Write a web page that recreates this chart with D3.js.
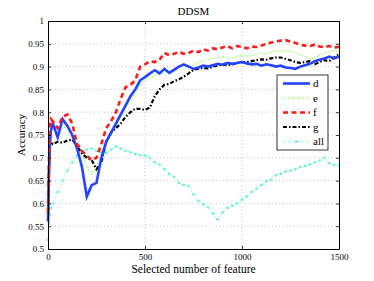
<!DOCTYPE html>
<html>
<head>
<meta charset="utf-8">
<script src="https://cdn.jsdelivr.net/npm/d3@7"></script>
<style>
  body { margin: 0; background: #fff; }
  svg text { font-family: "Liberation Serif", "Times New Roman", serif; fill: #000; }
</style>
</head>
<body>
<div id="chart"></div>
<script>
// number of selected features (x)
var features = [0, 5, 10, 15, 25, 50, 75, 100, 125, 150, 175, 200, 225, 250, 275, 300, 325, 350, 375, 400,
  425, 450, 475, 500, 525, 550, 575, 600, 625, 650, 675, 700, 725, 750, 775, 800, 825, 850, 875, 900,
  925, 950, 975, 1000, 1025, 1050, 1075, 1100, 1125, 1150, 1175, 1200, 1225, 1250, 1275, 1300, 1325, 1350, 1375, 1400,
  1425, 1450, 1475, 1500];

var accD = [0.56, 0.66, 0.73, 0.76, 0.775, 0.745, 0.785, 0.77, 0.75, 0.72, 0.68, 0.615, 0.64, 0.645, 0.70, 0.735, 0.755, 0.775, 0.795, 0.815,
  0.835, 0.85, 0.87, 0.877, 0.885, 0.892, 0.885, 0.895, 0.886, 0.893, 0.9, 0.905, 0.9, 0.895, 0.898, 0.902, 0.9, 0.903, 0.906, 0.904,
  0.908, 0.906, 0.908, 0.91, 0.907, 0.905, 0.906, 0.902, 0.905, 0.903, 0.9, 0.902, 0.898, 0.897, 0.895, 0.9, 0.903, 0.906, 0.912, 0.915,
  0.918, 0.922, 0.918, 0.922];

var accE = [0.58, 0.68, 0.74, 0.76, 0.765, 0.77, 0.765, 0.77, 0.755, 0.74, 0.715, 0.68, 0.665, 0.675, 0.71, 0.74, 0.75, 0.77, 0.79, 0.81,
  0.825, 0.84, 0.86, 0.87, 0.875, 0.88, 0.885, 0.888, 0.89, 0.895, 0.9, 0.903, 0.9, 0.905, 0.91, 0.912, 0.915, 0.918, 0.92, 0.922,
  0.92, 0.918, 0.922, 0.925, 0.923, 0.925, 0.927, 0.93, 0.928, 0.932, 0.935, 0.933, 0.936, 0.934, 0.93, 0.925, 0.922, 0.918, 0.92, 0.925,
  0.93, 0.932, 0.935, 0.934];

var accF = [0.58, 0.70, 0.77, 0.785, 0.78, 0.765, 0.79, 0.795, 0.775, 0.73, 0.715, 0.705, 0.695, 0.70, 0.73, 0.765, 0.78, 0.80, 0.83, 0.855,
  0.86, 0.87, 0.90, 0.905, 0.912, 0.91, 0.915, 0.93, 0.925, 0.928, 0.932, 0.928, 0.93, 0.935, 0.932, 0.938, 0.935, 0.94, 0.938, 0.942,
  0.945, 0.94, 0.945, 0.943, 0.94, 0.944, 0.943, 0.946, 0.95, 0.953, 0.955, 0.957, 0.958, 0.955, 0.952, 0.948, 0.946, 0.945, 0.948, 0.944,
  0.943, 0.945, 0.942, 0.943];

var accG = [0.58, 0.68, 0.73, 0.735, 0.73, 0.735, 0.733, 0.738, 0.74, 0.725, 0.71, 0.70, 0.695, 0.675, 0.69, 0.735, 0.755, 0.765, 0.775, 0.79,
  0.80, 0.808, 0.807, 0.805, 0.81, 0.835, 0.85, 0.86, 0.862, 0.868, 0.872, 0.878, 0.885, 0.893, 0.895, 0.897, 0.896, 0.9, 0.902, 0.905,
  0.903, 0.905, 0.908, 0.91, 0.91, 0.912, 0.914, 0.916, 0.915, 0.918, 0.92, 0.92, 0.917, 0.914, 0.91, 0.908, 0.91, 0.912, 0.905, 0.91,
  0.914, 0.912, 0.92, 0.927];

var accAll = [0.52, 0.555, 0.575, 0.59, 0.60, 0.625, 0.65, 0.672, 0.69, 0.705, 0.712, 0.718, 0.72, 0.715, 0.712, 0.71, 0.718, 0.725, 0.72, 0.715,
  0.712, 0.708, 0.706, 0.705, 0.70, 0.69, 0.685, 0.675, 0.665, 0.658, 0.645, 0.64, 0.638, 0.62, 0.605, 0.598, 0.592, 0.578, 0.565, 0.58,
  0.59, 0.595, 0.60, 0.608, 0.615, 0.625, 0.632, 0.64, 0.648, 0.652, 0.662, 0.665, 0.67, 0.672, 0.675, 0.68, 0.682, 0.685, 0.69, 0.694,
  0.70, 0.688, 0.684, 0.683];

var seriesNames = ["d", "e", "f", "g", "all"];
var yTicks = [0.5, 0.55, 0.6, 0.65, 0.7, 0.75, 0.8, 0.85, 0.9, 0.95, 1];
var xTicks = [0, 500, 1000, 1500];

var serif = "'Liberation Serif', 'Times New Roman', serif";
var width = 374, height = 281;
var margin = { top: 21, right: 35, bottom: 32, left: 48 };
var plotW = width - margin.left - margin.right;
var plotH = height - margin.top - margin.bottom;

var svg = d3.select("#chart").append("svg")
    .attr("width", width).attr("height", height)
    .attr("font-family", serif);

var x = d3.scaleLinear().domain([0, 1500]).range([0, plotW]);
var y = d3.scaleLinear().domain([0.5, 1]).range([plotH, 0]);

var g = svg.append("g").attr("transform", "translate(" + margin.left + "," + margin.top + ")");

// dotted grid
g.append("g").selectAll("line").data(yTicks.slice(1, -1)).enter().append("line")
    .attr("x1", 0).attr("x2", plotW)
    .attr("y1", function(d) { return y(d); }).attr("y2", function(d) { return y(d); })
    .attr("stroke", "#b4b4b4").attr("stroke-width", 0.8).attr("stroke-dasharray", "1,2.5");
g.append("g").selectAll("line").data(xTicks.slice(1, -1)).enter().append("line")
    .attr("y1", 0).attr("y2", plotH)
    .attr("x1", function(d) { return x(d); }).attr("x2", function(d) { return x(d); })
    .attr("stroke", "#b4b4b4").attr("stroke-width", 0.8).attr("stroke-dasharray", "1,2.5");

// series
var styles = {
    d:   { data: accD,   color: "#2443ff", width: 2.6, dash: null },
    e:   { data: accE,   color: "#94ff5c", width: 1.5, dash: "1,1.5" },
    f:   { data: accF,   color: "#ff1a1a", width: 2.6, dash: "5,3.5" },
    g:   { data: accG,   color: "#000000", width: 2.2, dash: "4,2,1.5,2" },
    all: { data: accAll, color: "#70f4d4", width: 1.0, dash: "1,1.5" }
};

var line = d3.line()
    .x(function(d) { return x(d[0]); })
    .y(function(d) { return y(d[1]); });

var drawOrder = ["all", "e", "g", "d", "f"];
drawOrder.forEach(function(name) {
    var s = styles[name];
    var pts = features.map(function(f, i) { return [f, s.data[i]]; });
    g.append("path").datum(pts)
        .attr("fill", "none")
        .attr("stroke", s.color)
        .attr("stroke-width", s.width)
        .attr("stroke-dasharray", s.dash)
        .attr("d", line);
    if (name == "all") {
        g.append("g").selectAll("circle").data(pts).enter().append("circle")
            .attr("cx", function(d) { return x(d[0]); })
            .attr("cy", function(d) { return y(d[1]); })
            .attr("r", 1.4)
            .attr("fill", s.color);
    }
});

// axes, MATLAB box style with inward ticks
var fmtY = function(d) { return String(+d.toFixed(2)); };
var axL = g.append("g").call(d3.axisLeft(y).tickValues(yTicks).tickSizeInner(-3).tickSizeOuter(0).tickPadding(4).tickFormat(fmtY));
var axR = g.append("g").attr("transform", "translate(" + plotW + ",0)")
    .call(d3.axisRight(y).tickValues(yTicks).tickSizeInner(-3).tickSizeOuter(0).tickFormat(""));
var axB = g.append("g").attr("transform", "translate(0," + plotH + ")")
    .call(d3.axisBottom(x).tickValues(xTicks).tickSizeInner(-3).tickSizeOuter(0).tickPadding(4.5).tickFormat(d3.format("d")));
var axT = g.append("g")
    .call(d3.axisTop(x).tickValues(xTicks).tickSizeInner(-3).tickSizeOuter(0).tickFormat(""));

[axL, axR, axB, axT].forEach(function(a) {
    a.attr("font-family", serif).attr("font-size", 9);
    a.selectAll(".domain").attr("stroke", "#000").attr("stroke-width", 1);
    a.selectAll(".tick line").attr("stroke", "#000").attr("stroke-width", 0.8);
});

// titles
svg.append("text").attr("x", margin.left + plotW / 2).attr("y", 15)
    .attr("text-anchor", "middle").attr("font-size", 11).text("DDSM");
svg.append("text").attr("x", margin.left + plotW / 2).attr("y", 273)
    .attr("text-anchor", "middle").attr("font-size", 11.5).text("Selected number of feature");
svg.append("text").attr("transform", "translate(25," + (margin.top + plotH / 2) + ") rotate(-90)")
    .attr("text-anchor", "middle").attr("font-size", 11).text("Accuracy");

// legend
var leg = svg.append("g").attr("transform", "translate(277,75)");
leg.append("rect").attr("width", 51).attr("height", 75)
    .attr("fill", "#fff").attr("stroke", "#000").attr("stroke-width", 0.8);
seriesNames.forEach(function(name, i) {
    var s = styles[name];
    var ly = 8.5 + i * 14.5;
    leg.append("line").attr("x1", 6).attr("x2", 33).attr("y1", ly).attr("y2", ly)
        .attr("stroke", s.color).attr("stroke-width", s.width).attr("stroke-dasharray", s.dash);
    if (name == "all") {
        leg.append("circle").attr("cx", 19.5).attr("cy", ly).attr("r", 1.6).attr("fill", s.color);
    }
    leg.append("text").attr("x", 36).attr("y", ly + 3.5).attr("font-size", 11).text(name);
});
</script>
</body>
</html>
